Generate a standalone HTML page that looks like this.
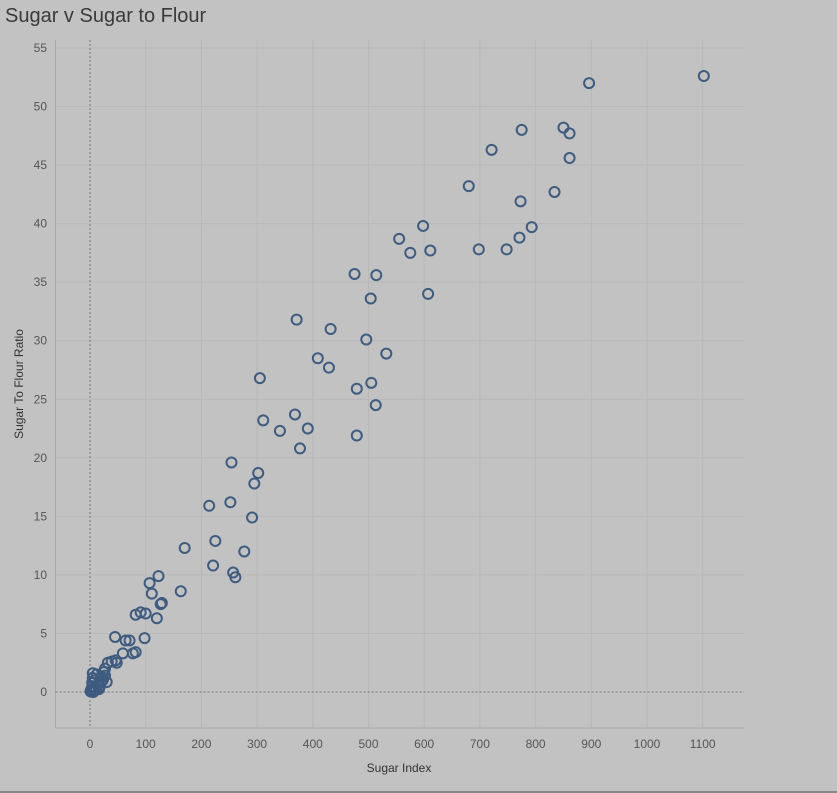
<!DOCTYPE html>
<html><head><meta charset="utf-8"><style>
html,body{margin:0;padding:0;background:#c2c2c2;}
body{width:837px;height:793px;overflow:hidden;position:relative;font-family:"Liberation Sans",sans-serif;}
#title{position:absolute;left:5px;top:5px;font-size:20px;color:#3a3a3a;}
</style></head><body>
<div id="title">Sugar v Sugar to Flour</div>
<svg id="chart" width="837" height="793" style="position:absolute;left:0;top:0"></svg>
<script>
const xTicks=[0,100,200,300,400,500,600,700,800,900,1000,1100];
const yTicks=[0,5,10,15,20,25,30,35,40,45,50,55];
const sugarIndex=[1102,896,850,861,775,721,861,680,834,773,793,598,555,575,611,698,748,771,475,514,504,607,371,432,496,532,409,429,305,479,505,513,311,368,341,391,377,479,254,302,295,214,252,291,170,225,277,221,257,261,123,163,107,82,91,100,111,127,129,120,45,98,71,64,59,82,77,46,48,32,27,39,25,4,5,9,12,7,14,20,23,16,2,4,11,18,21,27,30,5,1,3,8,6];
const sugarFlourRatio=[52.6,52.0,48.2,47.7,48.0,46.3,45.6,43.2,42.7,41.9,39.7,39.8,38.7,37.5,37.7,37.8,37.8,38.8,35.7,35.6,33.6,34.0,31.8,31.0,30.1,28.9,28.5,27.7,26.8,25.9,26.4,24.5,23.2,23.7,22.3,22.5,20.8,21.9,19.6,18.7,17.8,15.9,16.2,14.9,12.3,12.9,12.0,10.8,10.2,9.8,9.9,8.6,9.3,6.6,6.8,6.7,8.4,7.5,7.6,6.3,4.7,4.6,4.4,4.4,3.3,3.4,3.3,2.7,2.5,2.5,2.0,2.6,1.7,0.8,1.2,1.0,1.5,0.3,0.6,0.85,1.0,0.25,0.2,0.5,0.2,0.5,1.3,1.4,0.85,1.6,0.05,0.1,0.3,0.0];
const svg=document.getElementById('chart');
const NS='http://www.w3.org/2000/svg';
const L=55.5,R=744,T=40,B=728;
const sx=v=>90+v*0.557;
const sy=v=>692-v*11.71;
function mk(tag,attrs){const e=document.createElementNS(NS,tag);for(const k in attrs)e.setAttribute(k,attrs[k]);svg.appendChild(e);return e;}
xTicks.forEach(t=>{
  if(t!==0){const g=mk('line',{x1:sx(t),x2:sx(t),y1:T,y2:B,stroke:'#b8b8b8','stroke-width':1});
  
  }
  const tx=mk('text',{x:sx(t),y:748,'text-anchor':'middle','font-size':12,fill:'#555'});
  tx.textContent=t;
  
  
});
yTicks.forEach(t=>{
  if(t!==0){const g=mk('line',{x1:L,x2:R,y1:sy(t),y2:sy(t),stroke:'#b8b8b8','stroke-width':1});
  
  }
  const tx=mk('text',{x:47,y:sy(t)+4,'text-anchor':'end','font-size':12,fill:'#555'});
  tx.textContent=t;
  
  
});
const ax=mk('line',{x1:L,x2:R,y1:B,y2:B,stroke:'#aaa','stroke-width':1});


const ay=mk('line',{x1:L,x2:L,y1:T,y2:B,stroke:'#aaa','stroke-width':1});


const z1=mk('line',{x1:L,x2:R,y1:sy(0),y2:sy(0),stroke:'#777','stroke-width':1,'stroke-dasharray':'2,2'});


const z2=mk('line',{x1:sx(0),x2:sx(0),y1:T,y2:B,stroke:'#777','stroke-width':1,'stroke-dasharray':'2,2'});


sugarIndex.forEach((v,i)=>{
  const c=mk('circle',{cx:sx(v),cy:sy(sugarFlourRatio[i]),r:5,fill:'none',stroke:'#3f5b7f','stroke-width':2});
  
  
});
const xt=mk('text',{x:399,y:772,'text-anchor':'middle','font-size':12,fill:'#333'});
xt.textContent='Sugar Index';


const yt=mk('text',{x:0,y:0,'text-anchor':'middle','font-size':12,fill:'#333',transform:'translate(23,384) rotate(-90)'});
yt.textContent='Sugar To Flour Ratio';


const bb=mk('line',{x1:0,x2:837,y1:792,y2:792,stroke:'#888','stroke-width':2});


</script>
</body></html>
